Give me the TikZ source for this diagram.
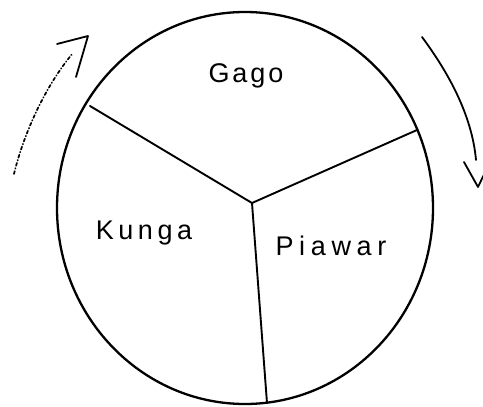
\documentclass[tikz,border=0pt]{standalone}
\usepackage{fontspec}
\setmainfont{Liberation Sans}
\newfontfamily\lsgago[LetterSpace=11]{Liberation Sans}
\newfontfamily\lskunga[LetterSpace=17]{Liberation Sans}
\newfontfamily\lspiawar[LetterSpace=21]{Liberation Sans}
\begin{document}
\begin{tikzpicture}[x=1pt,y=-1pt,
  rim/.style={line width=2.3pt},
  divider/.style={line width=1.9pt, line cap=round, line join=round},
  lab/.style={anchor=base, inner sep=0pt},
  flow/.style={line width=1.8pt, line cap=round, line join=round},
  dotflow/.style={line width=1.7pt, line cap=round, dash pattern=on 3pt off 2.5pt on 0.5pt off 2.5pt}]
\useasboundingbox (0,0) rectangle (483,407);
% circle
\draw[rim] (245,208) ellipse [x radius=188pt, y radius=196pt];
% dividers
\coordinate (hub) at (252,203);
\coordinate (ul) at (90,106);
\coordinate (ur) at (417,130);
\coordinate (bt) at (267,403);
\draw[divider] (ul) -- (hub) -- (ur);
\draw[divider] (hub) -- (bt);
% labels
\node[lab, font=\lsgago\fontsize{27}{30}\selectfont] (gago) at (246,82) {Gago};
\node[lab, font=\lskunga\fontsize{27}{30}\selectfont] (kunga) at (144,239) {Kunga};
\node[lab, font=\lspiawar\fontsize{27}{30}\selectfont] (piawar) at (331,255) {Piawar};
% left arrow (dotted shaft, open head)
\coordinate (ls) at (14,174);
\coordinate (le) at (73,53);
\draw[dotflow] (ls) .. controls (22,140) and (42,90) .. (le);
\coordinate (ltip) at (88,36);
\draw[flow] (57,44) -- (ltip) -- (76,77);
% right arrow
\coordinate (rs) at (422,37);
\coordinate (re) at (476,160);
\draw[flow] (rs) .. controls (448,72) and (472,115) .. (re);
\coordinate (rtip) at (478,187);
\draw[flow] (464,162) -- (rtip) -- (490,162);
\end{tikzpicture}
\end{document}
